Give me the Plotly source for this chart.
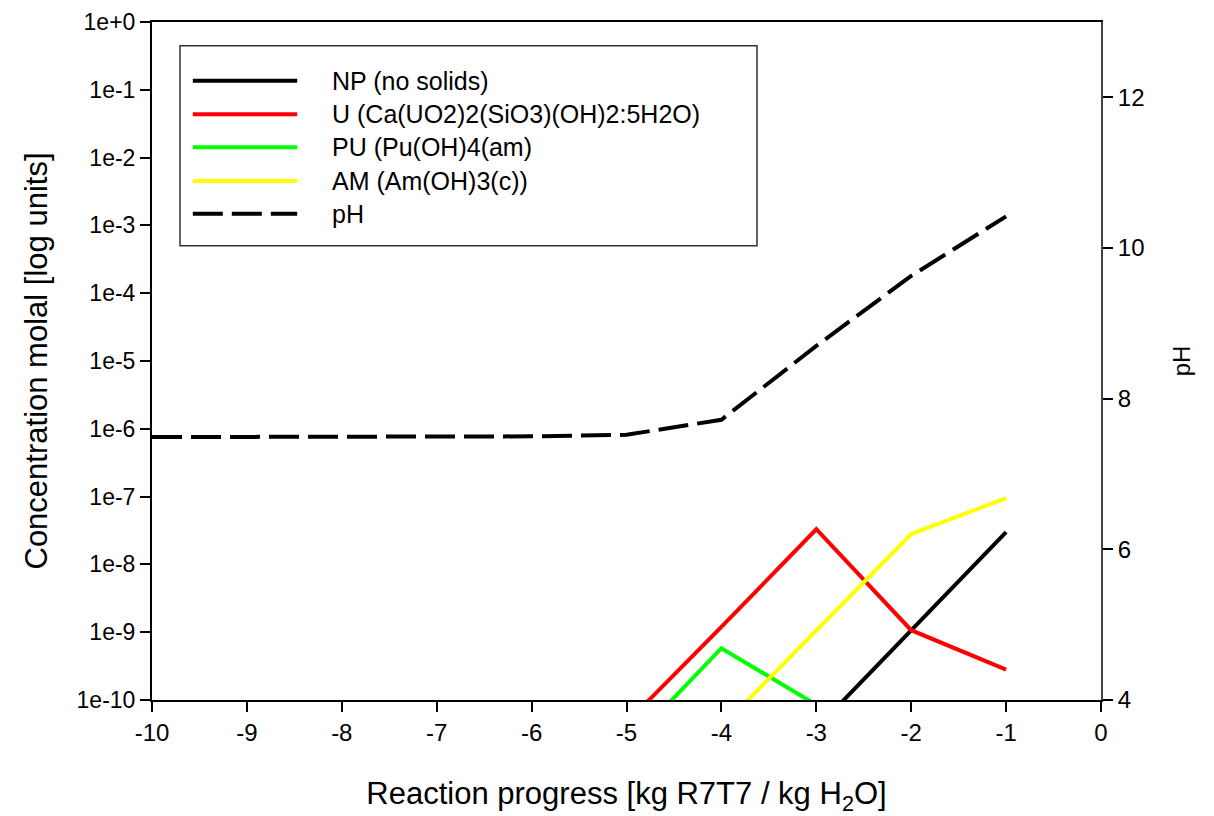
import plotly.graph_objects as go

# ---- data ----
np_x = [-3, -2, -1]
np_y = [3.8e-11, 1.07e-9, 3.0e-8]

u_x = [-5, -4, -3, -2, -1]
u_y = [4.6e-11, 1.2e-9, 3.3e-8, 1.07e-9, 2.8e-10]

pu_x = [-5, -4, -3]
pu_y = [2.0e-11, 5.8e-10, 8.5e-11]

am_x = [-4, -3, -2, -1]
am_y = [4.0e-11, 1.07e-9, 2.8e-8, 9.5e-8]

ph_x = [-10, -9, -8, -7, -6, -5, -4, -3, -2, -1]
ph_y = [7.49, 7.49, 7.49, 7.49, 7.50, 7.52, 7.72, 8.70, 9.63, 10.42]

names = ["NP (no solids)", "U (Ca(UO2)2(SiO3)(OH)2:5H2O)", "PU (Pu(OH)4(am)",
         "AM (Am(OH)3(c))", "pH"]
colors = ["#000000", "#ff0000", "#00ff00", "#ffff00", "#000000"]
dashes = ["solid", "solid", "solid", "solid", "30px,9px"]

x_ticks = [-10, -9, -8, -7, -6, -5, -4, -3, -2, -1, 0]
x_ticktext = ["-10", "-9", "-8", "-7", "-6", "-5", "-4", "-3", "-2", "-1", "0"]
y_tickvals = [1e0, 1e-1, 1e-2, 1e-3, 1e-4, 1e-5, 1e-6, 1e-7, 1e-8, 1e-9, 1e-10]
y_ticktext = ["1e+0", "1e-1", "1e-2", "1e-3", "1e-4", "1e-5", "1e-6", "1e-7",
              "1e-8", "1e-9", "1e-10"]
ph_ticks = [4, 6, 8, 10, 12]

FONT = "Liberation Sans, Arial, sans-serif"

fig = go.Figure()
series = [(np_x, np_y), (u_x, u_y), (pu_x, pu_y), (am_x, am_y)]
for i, (xs, ys) in enumerate(series):
    fig.add_trace(go.Scatter(x=xs, y=ys, mode="lines", name=names[i],
                             line=dict(color=colors[i], width=4, dash=dashes[i]),
                             showlegend=False))
fig.add_trace(go.Scatter(x=ph_x, y=ph_y, mode="lines", name=names[4], yaxis="y2",
                         line=dict(color=colors[4], width=4, dash=dashes[4]),
                         showlegend=False))

# custom legend (long line samples like the original)
lx0, lx1 = 0.0295, 0.6375
ly1, ly0 = 0.9648, 0.670
fig.add_shape(type="rect", xref="paper", yref="paper", x0=lx0, x1=lx1, y0=ly0, y1=ly1,
              line=dict(color="#333333", width=1.5), fillcolor="white", layer="above")
entry_y = [0.9135, 0.8640, 0.8152, 0.7654, 0.7170]
for i in range(5):
    fig.add_shape(type="line", xref="paper", yref="paper", x0=0.043, x1=0.153,
                  y0=entry_y[i], y1=entry_y[i],
                  line=dict(color=colors[i], width=4, dash=dashes[i]), layer="above")
    fig.add_annotation(xref="paper", yref="paper", x=0.1875, y=entry_y[i], text=names[i],
                       showarrow=False, xanchor="left", yanchor="middle",
                       font=dict(family=FONT, size=25, color="black"))

fig.update_layout(
    width=1206, height=808,
    margin=dict(l=144, r=113, t=14, b=116),
    paper_bgcolor="white", plot_bgcolor="white",
    font=dict(family=FONT, color="black"),
    xaxis=dict(range=[-10, 0], tickvals=x_ticks, ticktext=x_ticktext, ticks="outside",
               ticklen=10, tickwidth=1.5, automargin=False, ticklabeloverflow="allow",
               tickcolor="black", showline=True, linecolor="black", linewidth=2, mirror=True,
               showgrid=False, zeroline=False, tickfont=dict(size=24),
               title=dict(text="Reaction progress [kg R7T7 / kg H<sub>2</sub>O]",
                          font=dict(size=31), standoff=38)),
    yaxis=dict(type="log", range=[-10, 0], tickvals=y_tickvals, ticktext=y_ticktext,
               ticks="outside", ticklen=10, tickwidth=1.5, tickcolor="black", automargin=False,
               ticklabeloverflow="allow",
               showline=True, linecolor="black", linewidth=2, showgrid=False, zeroline=False,
               tickfont=dict(size=23),
               title=dict(text="Concentration molal [log units]", font=dict(size=31),
                          standoff=20)),
    yaxis2=dict(overlaying="y", side="right", range=[4, 13], tickvals=ph_ticks,
                ticks="outside", ticklen=10, tickwidth=1.5, tickcolor="black", automargin=False,
                ticklabeloverflow="allow",
                showline=True, linecolor="#444444", linewidth=2, showgrid=False,
                zeroline=False, tickfont=dict(size=24),
                title=dict(text="pH", font=dict(size=24), standoff=30)),
)

fig.write_html("out.html")
